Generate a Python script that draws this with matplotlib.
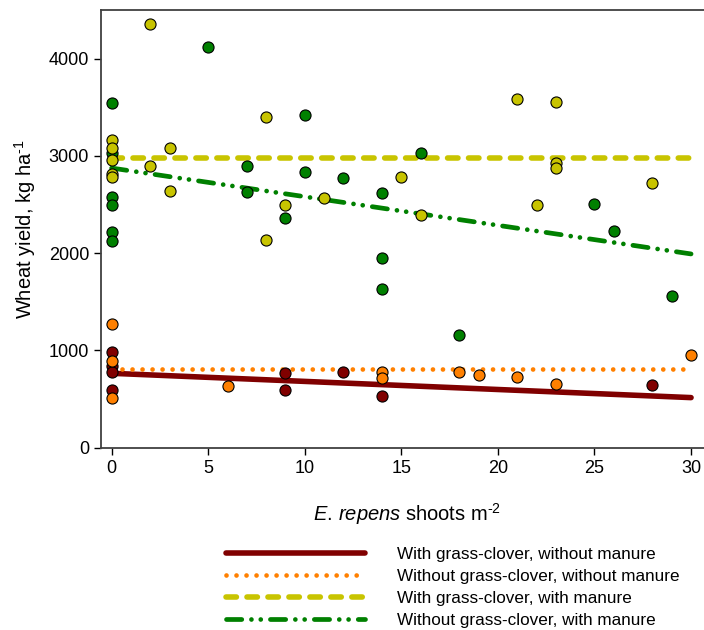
import matplotlib
matplotlib.use("Agg")
import matplotlib.pyplot as plt

plt.rcParams['font.family'] = ['Liberation Sans', 'DejaVu Sans']
plt.rcParams['mathtext.fontset'] = 'custom'
plt.rcParams['mathtext.rm'] = 'Liberation Sans'
plt.rcParams['mathtext.it'] = 'Liberation Sans:italic'
plt.rcParams['lines.scale_dashes'] = False

# with grass-clover, without manure
red_x = [0, 0, 0, 0, 9, 9, 12, 14, 28]
red_y = [980, 835, 775, 595, 765, 597, 783, 532, 645]
# without grass-clover, without manure
orange_x = [0, 0, 0, 6, 14, 14, 18, 19, 21, 23, 30]
orange_y = [1270, 890, 512, 634, 783, 713, 777, 750, 726, 655, 955]
# with grass-clover, with manure
yellow_x = [0, 0, 0, 0, 0, 2, 2, 3, 3, 8, 8, 9, 11, 15, 16, 21, 22, 23, 23, 23, 28]
yellow_y = [3160, 3080, 2960, 2810, 2780, 4360, 2900, 3085, 2640, 3400, 2135,
            2495, 2565, 2780, 2395, 3580, 2495, 3550, 2925, 2880, 2725]
# without grass-clover, with manure
green_x = [0, 0, 0, 0, 0, 0, 5, 7, 7, 9, 10, 10, 12, 14, 14, 14, 16, 18, 25, 26, 29]
green_y = [3546, 3030, 2580, 2500, 2220, 2130, 4115, 2895, 2630, 2365, 3425,
           2835, 2772, 2615, 1950, 1630, 3032, 1163, 2505, 2228, 1555]

# fitted lines (end points)
fit_x = [0, 30]
red_fit = [765, 515]
orange_fit = [807, 807]
yellow_fit = [2975, 2975]
green_fit = [2875, 1992]

labels = ["With grass-clover, without manure",
          "Without grass-clover, without manure",
          "With grass-clover, with manure",
          "Without grass-clover, with manure"]

c_red = '#800000'
c_orange = '#ff8000'
c_yellow = '#c8c400'
c_green = '#008000'

fig = plt.figure(figsize=(7.04, 6.30), dpi=100)
ax = fig.add_axes([101 / 704, 1 - 447.7 / 630, 603 / 704, 437.7 / 630])

l1, = ax.plot(fit_x, red_fit, color=c_red, lw=4, solid_capstyle='round', zorder=2)
l2, = ax.plot(fit_x, orange_fit, color=c_orange, lw=3.4,
              linestyle=(0, (0.01, 7.2)), dash_capstyle='round', zorder=2)
l3, = ax.plot(fit_x, yellow_fit, color=c_yellow, lw=4,
              linestyle=(0, (7.5, 7.6)), dash_capstyle='round', zorder=2)
l4, = ax.plot(fit_x, green_fit, color=c_green, lw=3.4,
              linestyle=(0, (11.0, 6.95, 0.01, 6.7, 0.01, 6.95)),
              dash_capstyle='round', zorder=2)

mk = dict(marker='o', linestyle='none', markersize=8, markeredgecolor='black',
          markeredgewidth=0.8, zorder=3)
ax.plot(green_x, green_y, markerfacecolor=c_green, **mk)
ax.plot(yellow_x, yellow_y, markerfacecolor=c_yellow, **mk)
ax.plot(red_x, red_y, markerfacecolor=c_red, **mk)
ax.plot(orange_x, orange_y, markerfacecolor=c_orange, **mk)

ax.set_xlim(-0.55, 30.67)
ax.set_ylim(0, 4500)
ax.set_xticks([0, 5, 10, 15, 20, 25, 30])
ax.set_yticks([0, 1000, 2000, 3000, 4000])
ax.tick_params(direction='out', length=5, width=1, labelsize=13, colors='black')
for s in ['left', 'top', 'bottom']:
    ax.spines[s].set_color('#404040')
    ax.spines[s].set_linewidth(1.3)
ax.spines['right'].set_visible(False)

ax.set_ylabel(r'Wheat yield, kg ha$^{\text{-1}}$', fontsize=14.5, labelpad=8)
ax.set_xlabel(r'$\mathit{E.\,repens}$ shoots m$^{\text{-2}}$', fontsize=14.5)
ax.xaxis.set_label_coords((406.5 - 101) / 603, -53 / 437.7)

fig.legend([l1, l2, l3, l4], labels, loc='upper left',
           bbox_to_anchor=(211 / 704, 1 - 532 / 630), frameon=False,
           fontsize=12.3, handlelength=8.1, handletextpad=1.87, labelspacing=0.4)

fig.savefig('out.png', dpi=100)
